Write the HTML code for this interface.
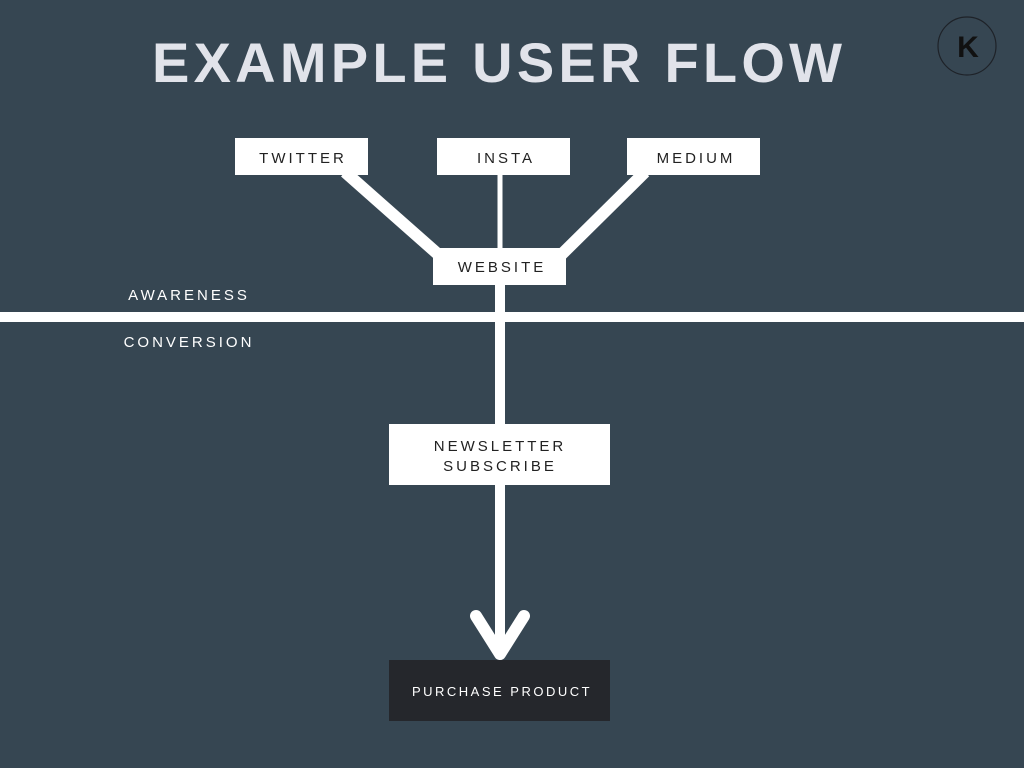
<!DOCTYPE html>
<html><head><meta charset="utf-8"><style>
html,body{margin:0;padding:0;background:#364652;}
svg{display:block}
text{font-family:"Liberation Sans",sans-serif;}
</style></head><body>
<svg width="1024" height="768" viewBox="0 0 1024 768" xmlns="http://www.w3.org/2000/svg">
<rect width="1024" height="768" fill="#364652"/>
<text x="152" y="82" font-size="56" font-weight="bold" fill="#e1e3ea" textLength="690" lengthAdjust="spacing">EXAMPLE USER FLOW</text>
<circle cx="967" cy="46" r="29" fill="none" stroke="#1e2228" stroke-width="1.2"/>
<text x="968" y="57" font-size="30" font-weight="bold" fill="#111" text-anchor="middle">K</text>
<g stroke="#fff" fill="none">
<line x1="345" y1="172" x2="440" y2="256" stroke-width="12"/>
<line x1="645" y1="172" x2="560" y2="256" stroke-width="12"/>
<line x1="500" y1="172" x2="500" y2="255" stroke-width="5"/>
<line x1="500" y1="280" x2="500" y2="650" stroke-width="10"/>
<line x1="0" y1="317" x2="1024" y2="317" stroke-width="10"/>
<polyline points="476,616 500,654 524,616" stroke-width="12" stroke-linecap="round" stroke-linejoin="round"/>
</g>
<g fill="#fff">
<rect x="235" y="138" width="133" height="37"/>
<rect x="437" y="138" width="133" height="37"/>
<rect x="627" y="138" width="133" height="37"/>
<rect x="433" y="248" width="133" height="37"/>
<rect x="389" y="424" width="221" height="61"/>
</g>
<rect x="389" y="660" width="221" height="61" fill="#25272c"/>
<g font-size="15" fill="#222" text-anchor="middle" letter-spacing="3">
<text x="303" y="163">TWITTER</text>
<text x="506" y="163">INSTA</text>
<text x="696" y="163">MEDIUM</text>
<text x="502" y="272">WEBSITE</text>
<text x="500" y="451">NEWSLETTER</text>
<text x="500" y="471">SUBSCRIBE</text>
</g>
<text x="502" y="696" font-size="13" fill="#fff" text-anchor="middle" letter-spacing="2.5">PURCHASE PRODUCT</text>
<text x="189" y="300" font-size="15" fill="#fff" text-anchor="middle" letter-spacing="3">AWARENESS</text>
<text x="189" y="347" font-size="15" fill="#fff" text-anchor="middle" letter-spacing="3">CONVERSION</text>
</svg>
</body></html>
